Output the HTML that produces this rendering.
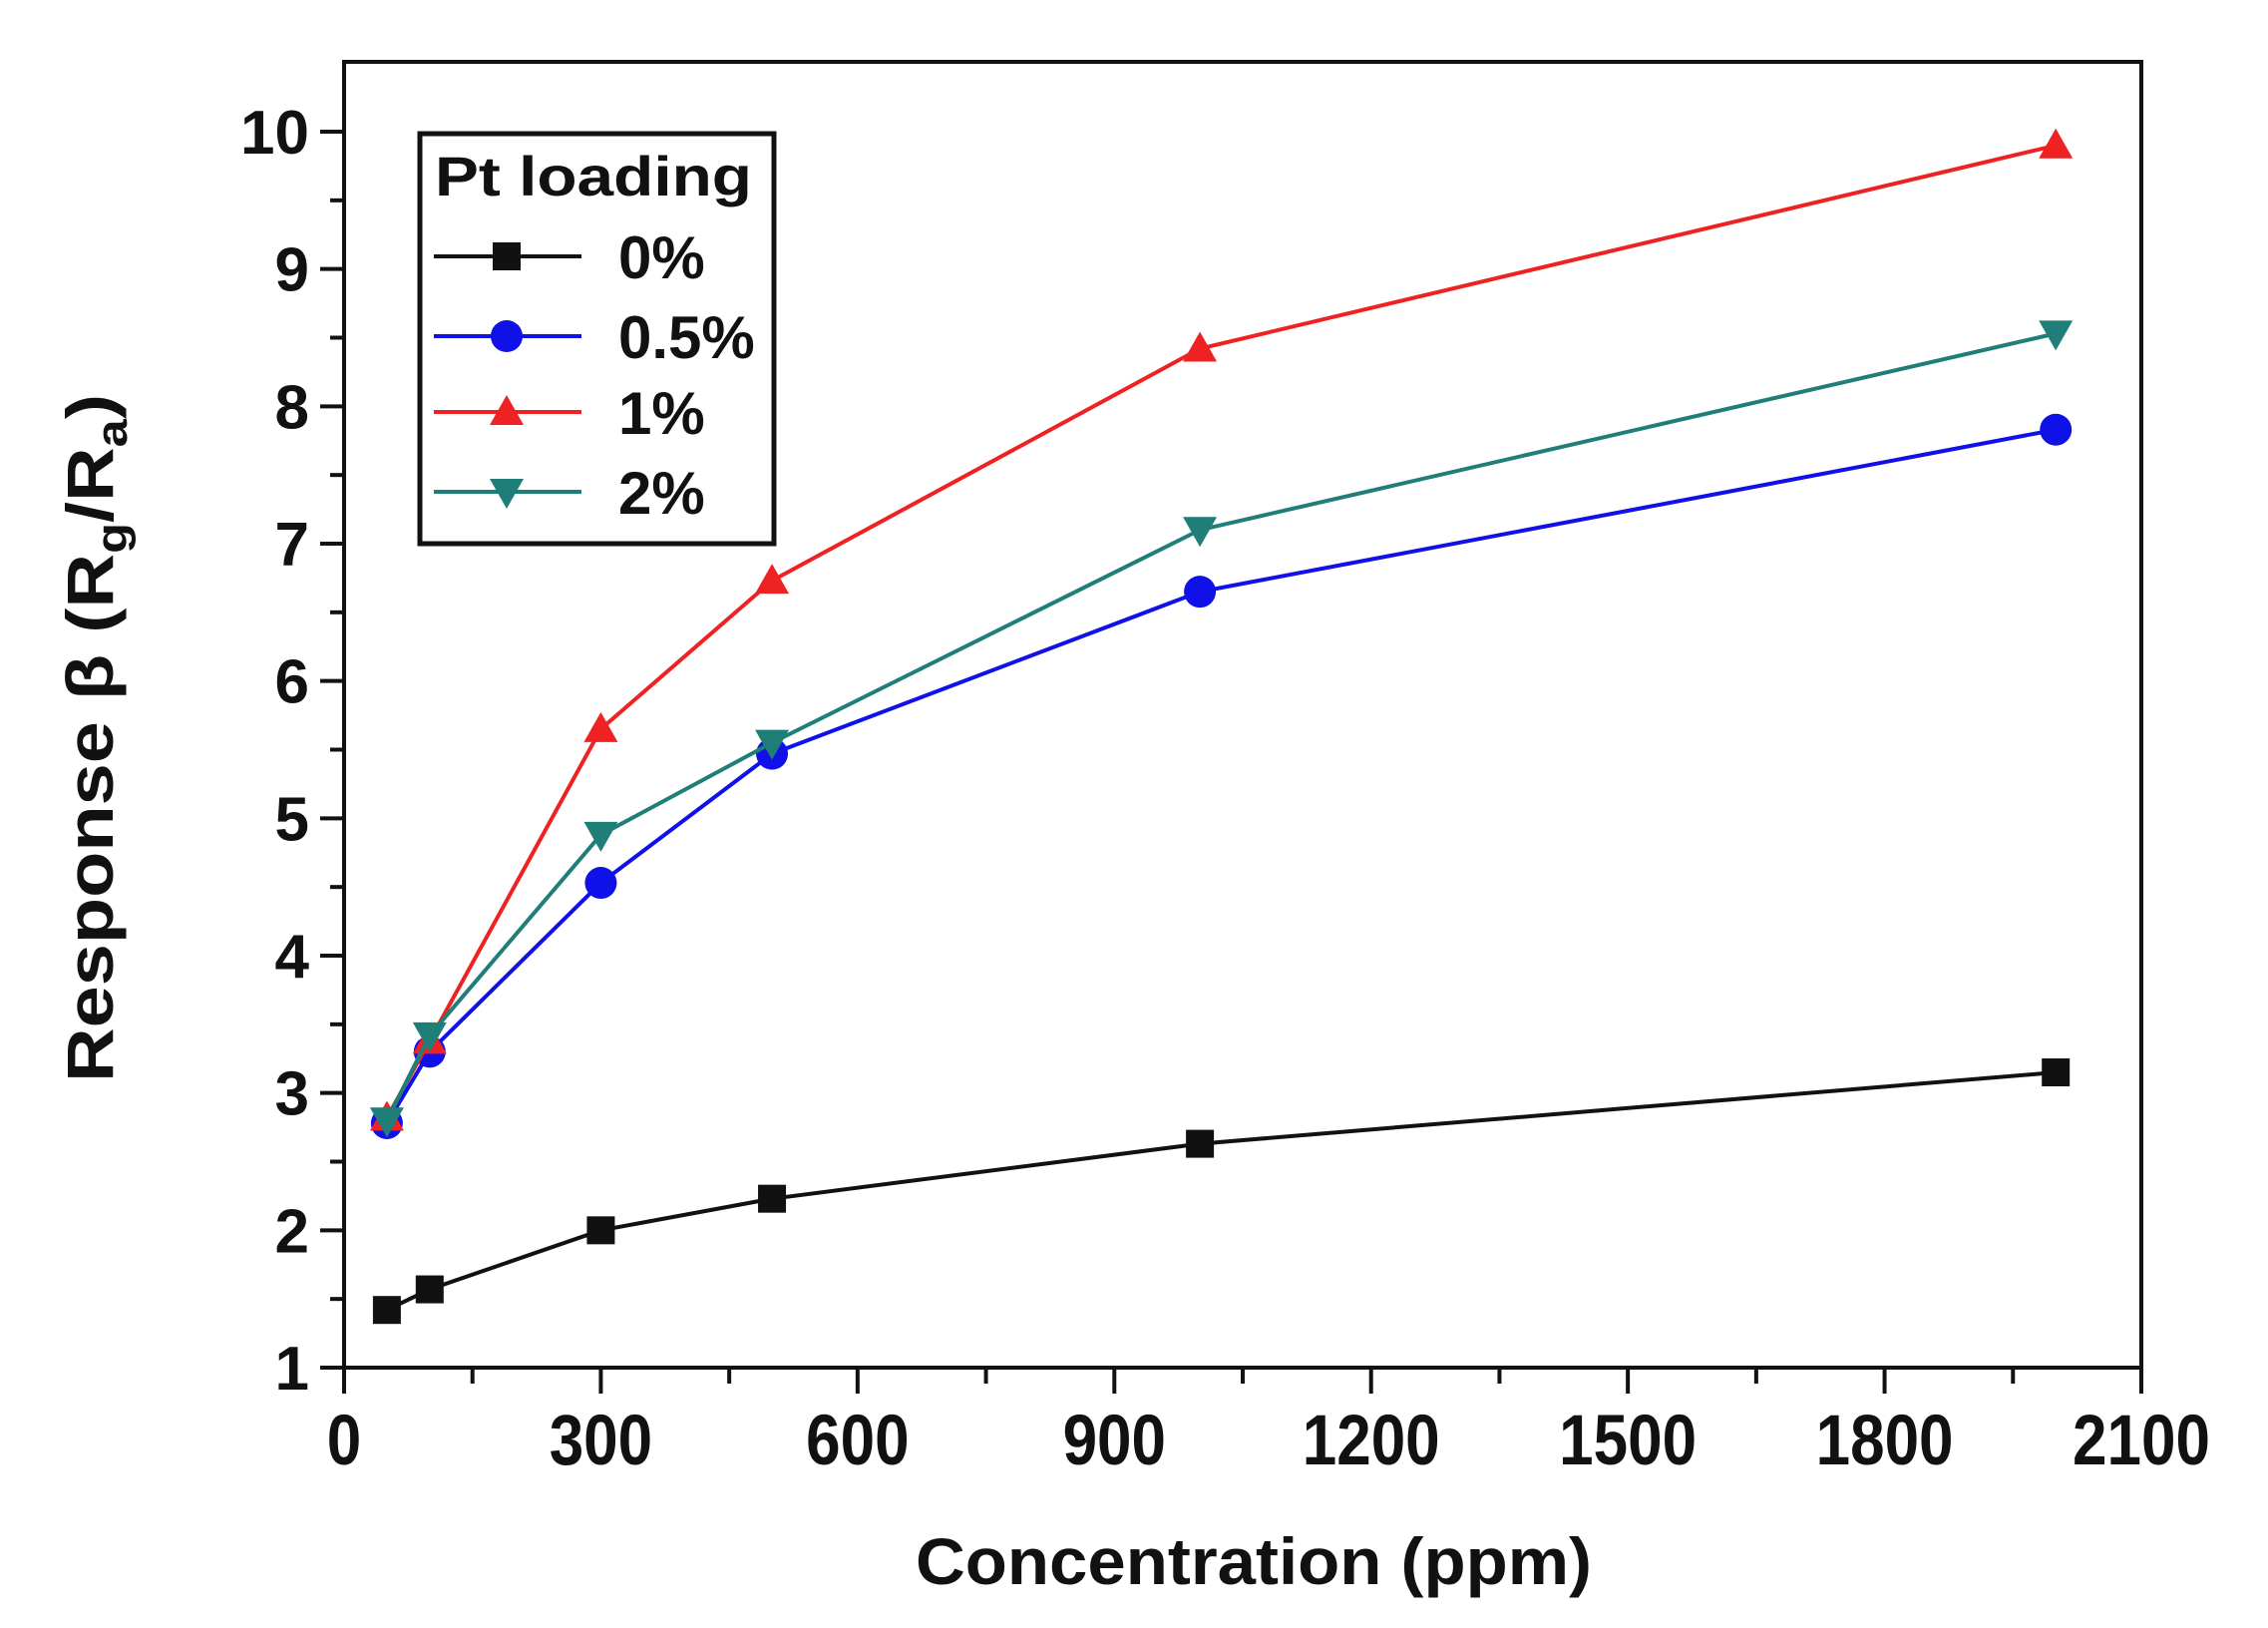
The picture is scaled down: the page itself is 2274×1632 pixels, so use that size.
<!DOCTYPE html>
<html><head><meta charset="utf-8"><style>
html,body{margin:0;padding:0;background:#fff;}
svg{display:block;font-family:"Liberation Sans",Arial,sans-serif;font-weight:bold;}
</style></head><body>
<svg id="chart" width="2274" height="1632" viewBox="0 0 2274 1632" xmlns="http://www.w3.org/2000/svg">
<g id="axes"></g>
<g id="series"></g>
<g id="legend"></g>
</svg>
<script>
const xCats = [50, 100, 300, 500, 1000, 2000];
const s0 = [1.42, 1.57, 2.0, 2.23, 2.63, 3.15];
const s05 = [2.78, 3.3, 4.53, 5.47, 6.65, 7.83];
const s1 = [2.82, 3.38, 5.65, 6.73, 8.42, 9.9];
const s2 = [2.8, 3.42, 4.88, 5.55, 7.1, 8.53];
const xTicks = [0, 300, 600, 900, 1200, 1500, 1800, 2100];
const yTicks = [1, 2, 3, 4, 5, 6, 7, 8, 9, 10];
const seriesNames = ["0%", "0.5%", "1%", "2%"];

const NS = "http://www.w3.org/2000/svg";
const L = 345, R = 2147, T = 62, B = 1371;
const xMin = 0, xMax = 2100, yMin = 1;
const yTop10 = 132;
function X(v){ return L + (v - xMin) / (xMax - xMin) * (R - L); }
function Y(v){ return B - (v - yMin) / (10 - yMin) * (B - yTop10); }
function mk(tag, attrs, parent){
  const e = document.createElementNS(NS, tag);
  for (const k in attrs) e.setAttribute(k, attrs[k]);
  parent.appendChild(e);
  return e;
}
const axes = document.getElementById('axes');
const frame = mk('rect', {x:L, y:T, width:R-L, height:B-T, fill:'none', stroke:'#111', 'stroke-width':4}, axes);



for (let v = 0; v <= 2100; v += 150) {
  const major = v % 300 === 0;
  const t = mk('line', {x1:X(v), x2:X(v), y1:B, y2:B + (major ? 26 : 16), stroke:'#111', 'stroke-width':4}, axes);
  
  
}
xTicks.forEach(v => {
  const t = mk('text', {x:X(v), y:1468, 'font-size':62, 'text-anchor':'middle', fill:'#111', transform:`translate(${X(v)},1468) scale(1,1.15) translate(${-X(v)},-1468)`}, axes);
  t.textContent = v;
  
  
});
for (let v = 1; v <= 10.01; v += 0.5) {
  const major = Math.abs(v - Math.round(v)) < 0.01;
  const t = mk('line', {x1:L - (major ? 24 : 14), x2:L, y1:Y(v), y2:Y(v), stroke:'#111', 'stroke-width':4}, axes);
  
  
}
yTicks.forEach(v => {
  const t = mk('text', {x:310, y:Y(v) + 22, 'font-size':62, 'text-anchor':'end', fill:'#111'}, axes);
  t.textContent = v;
  
  
});
const xt = mk('text', {x:1257, y:1588, 'font-size':66, 'text-anchor':'middle', fill:'#111', textLength:678, lengthAdjust:'spacingAndGlyphs'}, axes);
xt.textContent = 'Concentration (ppm)';


const yt = mk('text', {x:0, y:0, 'font-size':66, 'text-anchor':'middle', fill:'#111', transform:'translate(113,740) rotate(-90)', textLength:690, lengthAdjust:'spacingAndGlyphs'}, axes);
yt.innerHTML = 'Response β (R<tspan font-size="44" dy="14">g</tspan><tspan dy="-14">/R</tspan><tspan font-size="44" dy="14">a</tspan><tspan dy="-14">)</tspan>';



const colors = ['#111111', '#1010e8', '#ee2222', '#1f7f78'];
const shapes = ['square', 'circle', 'up', 'down'];
const data = [s0, s05, s1, s2];
function marker(shape, cx, cy, color, parent){
  let m;
  if (shape === 'square') m = mk('rect', {x:cx-14, y:cy-14, width:28, height:28, fill:color}, parent);
  else if (shape === 'circle') m = mk('circle', {cx:cx, cy:cy, r:16, fill:color}, parent);
  else if (shape === 'up') m = mk('polygon', {points:`${cx},${cy-17} ${cx-17},${cy+13} ${cx+17},${cy+13}`, fill:color}, parent);
  else m = mk('polygon', {points:`${cx},${cy+17} ${cx-17},${cy-13} ${cx+17},${cy-13}`, fill:color}, parent);
  return m;
}
const sg = document.getElementById('series');
data.forEach((vals, i) => {
  const g = mk('g', {}, sg);
  
  
  const pts = vals.map((v, j) => X(xCats[j]) + ',' + Y(v)).join(' ');
  const pl = mk('polyline', {points:pts, fill:'none', stroke:colors[i], 'stroke-width':4}, g);
  
  
  vals.forEach((v, j) => {
    const m = marker(shapes[i], X(xCats[j]), Y(v), colors[i], g);
    
    
  });
});

const lg = document.getElementById('legend');
const box = mk('rect', {x:421, y:134, width:355, height:411, fill:'#fff', stroke:'#111', 'stroke-width':5}, lg);


const lt = mk('text', {x:436, y:196, 'font-size':56, fill:'#111', textLength:318, lengthAdjust:'spacingAndGlyphs'}, lg);
lt.textContent = 'Pt loading';


const ly = [257, 337, 413, 493];
seriesNames.forEach((n, i) => {
  const g = mk('g', {}, lg);
  
  
  mk('line', {x1:435, x2:583, y1:ly[i], y2:ly[i], stroke:colors[i], 'stroke-width':4}, g);
  marker(shapes[i], 508, ly[i], colors[i], g);
  const t = mk('text', {x:620, y:ly[i] + 22, 'font-size':60, fill:'#111'}, g);
  t.textContent = n;
});
</script>
</body></html>
